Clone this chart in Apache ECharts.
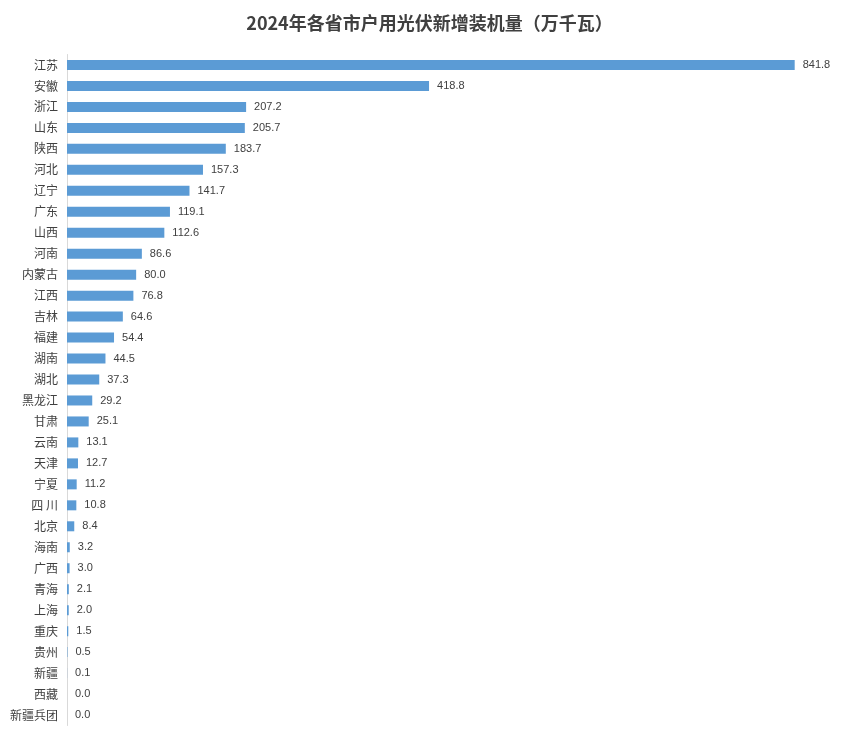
<!DOCTYPE html>
<html><head><meta charset="utf-8">
<script src="https://cdn.jsdelivr.net/npm/echarts@6/dist/echarts.min.js"></script>
<style>html,body{margin:0;padding:0;background:#fff}#c{width:859px;height:741px}</style>
</head><body><div id="c"></div>
<script>
const categories = ["江苏","安徽","浙江","山东","陕西","河北","辽宁","广东","山西","河南","内蒙古","江西","吉林","福建","湖南","湖北","黑龙江","甘肃","云南","天津","宁夏","四 川","北京","海南","广西","青海","上海","重庆","贵州","新疆","西藏","新疆兵团"];
const values = [841.8,418.8,207.2,205.7,183.7,157.3,141.7,119.1,112.6,86.6,80.0,76.8,64.6,54.4,44.5,37.3,29.2,25.1,13.1,12.7,11.2,10.8,8.4,3.2,3.0,2.1,2.0,1.5,0.5,0.1,0.0,0.0];
const chart = echarts.init(document.getElementById('c'));
chart.setOption({
  animation:false,
  title:{text:'2024年各省市户用光伏新增装机量（万千瓦）',left:'center',top:9,
    textStyle:{fontSize:18,fontWeight:'bold',color:'#404040',fontFamily:'Noto Sans CJK SC'}},
  grid:{left:67,right:14,top:54.5,bottom:15.5},
  xAxis:{type:'value',min:0,max:900,show:false},
  yAxis:{type:'category',inverse:true,data:categories,
    axisLine:{lineStyle:{color:'#d9d9d9'}},axisTick:{show:false},
    axisLabel:{color:'#404040',fontSize:12,margin:9,fontFamily:'Noto Sans CJK SC'}},
  series:[{type:'bar',data:values,barWidth:10,itemStyle:{color:'#5b9bd5'},
    label:{show:true,position:'right',distance:8,color:'#404040',fontSize:11,
      formatter:p=>p.value.toFixed(1)}}]
});
</script></body></html>
